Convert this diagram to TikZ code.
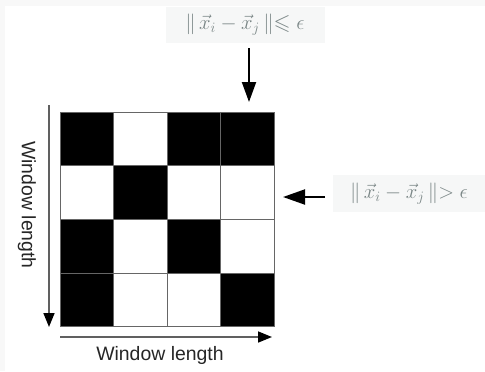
\documentclass[tikz,border=0pt]{standalone}
\usepackage{fontspec}
\usepackage{amsmath,amssymb}
\setsansfont{Liberation Sans}
\usetikzlibrary{arrows.meta}
\definecolor{labgray}{RGB}{122,134,134}
\definecolor{labbg}{RGB}{246,247,247}
\definecolor{edgegray}{RGB}{248,248,248}
\tikzset{
  cell/.style={draw=black!60, line width=0.9bp, minimum size=53.5bp, inner sep=0pt, anchor=center},
  bcell/.style={cell, fill=black},
  wcell/.style={cell, fill=white},
  axis/.style={draw=gray!75!black, line width=1.6bp, -{Triangle[length=14bp,width=11bp,color=black]}},
  pointer/.style={draw=black, line width=2bp, -{Triangle[length=20bp,width=14bp]}},
  axlabel/.style={font=\sffamily\fontsize{19.5}{22}\selectfont, text=black!85, inner sep=0pt},
  condlabel/.style={fill=labbg, text=labgray, inner sep=0pt, font=\fontsize{22}{25}\selectfont}
}
\begin{document}
\begin{tikzpicture}[x=1bp,y=-1bp]
\useasboundingbox (0,0) rectangle (485,371);
\fill[white] (0,0) rectangle (485,371);
\fill[edgegray] (0,0) rectangle (485,6);
\fill[edgegray] (0,0) rectangle (5,371);
% grid cells
\foreach \r/\c/\s in {1/1/bcell,1/2/wcell,1/3/bcell,1/4/bcell,
                      2/1/wcell,2/2/bcell,2/3/wcell,2/4/wcell,
                      3/1/bcell,3/2/wcell,3/3/bcell,3/4/wcell,
                      4/1/bcell,4/2/wcell,4/3/wcell,4/4/bcell}{
  \node[\s] (c\r\c) at ({60+53.5*(\c-0.5)},{112+53.75*(\r-0.5)}) {};
}
% axes
\coordinate (vtop) at (49,105);
\coordinate (vbot) at (49,327);
\draw[axis] (vtop) -- (vbot);
\coordinate (hleft) at (60,337);
\coordinate (hright) at (272,337);
\draw[axis] (hleft) -- (hright);
\node[axlabel, rotate=-90] (vlab) at (27,205) {Window length};
\node[axlabel] (hlab) at (160,355) {Window length};
% condition labels
\node[condlabel, minimum width=159bp, minimum height=36bp] (top) at (245,25)
  {$\|\,\vec{x}_i-\vec{x}_j\,\|{\leqslant}\;\epsilon$};
\node[condlabel, minimum width=152bp, minimum height=37bp] (right) at (409,193.5)
  {$\|\,\vec{x}_i-\vec{x}_j\,\|{>}\;\epsilon$};
\coordinate (dstart) at (249,48);
\coordinate (dend) at (249,102);
\draw[pointer] (dstart) -- (dend);
\coordinate (lstart) at (325,197);
\coordinate (lend) at (283,197);
\draw[pointer, -{Triangle[length=22bp,width=15bp]}] (lstart) -- (lend);
\end{tikzpicture}
\end{document}
